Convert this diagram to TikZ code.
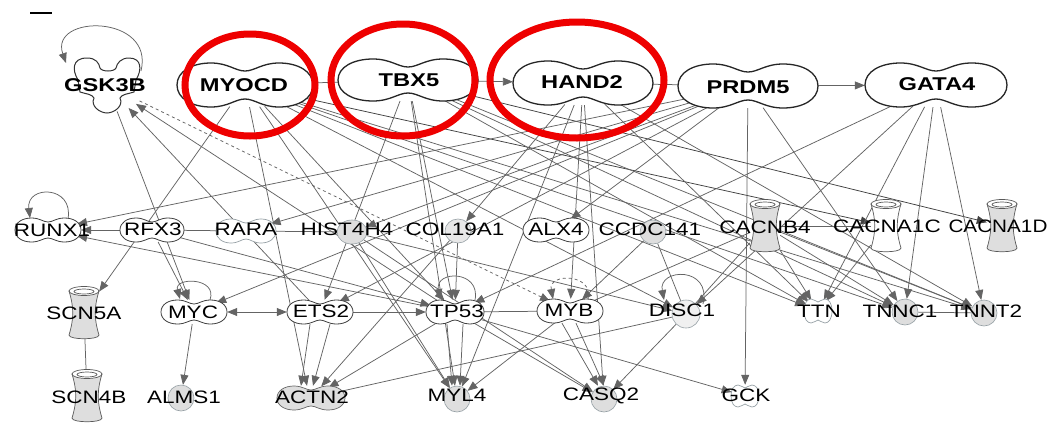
\documentclass[tikz,border=0pt]{standalone}
\usepackage{fontspec}
\setmainfont{Liberation Sans}
\usetikzlibrary{arrows.meta,calc,shapes.geometric}
\pgfdeclarelayer{background}
\pgfsetlayers{background,main}
\definecolor{edgegray}{RGB}{100,100,100}
\definecolor{ringred}{RGB}{238,0,0}
\definecolor{shadegray}{RGB}{222,222,222}
\definecolor{softline}{RGB}{150,160,165}
\newcommand\gtext[1]{\scalebox{1.25}[1]{#1}}
\newcommand\gbold[1]{\scalebox{1.28}[1]{#1}}
% two-lobed outline: x, y, half width, half height, pinch depth, style
\newcommand\peanutshape[6]{%
  \path[#6] ({#1-#3},{#2})
   .. controls ({#1-#3},{#2-0.62*#4}) and ({#1-0.78*#3},{#2-#4}) .. ({#1-0.5*#3},{#2-#4})
   .. controls ({#1-0.25*#3},{#2-#4}) and ({#1-0.14*#3},{#2-#4+#5}) .. ({#1},{#2-#4+#5})
   .. controls ({#1+0.14*#3},{#2-#4+#5}) and ({#1+0.25*#3},{#2-#4}) .. ({#1+0.5*#3},{#2-#4})
   .. controls ({#1+0.78*#3},{#2-#4}) and ({#1+#3},{#2-0.62*#4}) .. ({#1+#3},{#2})
   .. controls ({#1+#3},{#2+0.62*#4}) and ({#1+0.78*#3},{#2+#4}) .. ({#1+0.5*#3},{#2+#4})
   .. controls ({#1+0.25*#3},{#2+#4}) and ({#1+0.14*#3},{#2+#4-#5}) .. ({#1},{#2+#4-#5})
   .. controls ({#1-0.14*#3},{#2+#4-#5}) and ({#1-0.25*#3},{#2+#4}) .. ({#1-0.5*#3},{#2+#4})
   .. controls ({#1-0.78*#3},{#2+#4}) and ({#1-#3},{#2+0.62*#4}) .. cycle;}
% ion channel: x, y, body fill
\newcommand\channelshape[3]{%
  \filldraw[chan, fill=#3] ({#1-15},{#2-22}) .. controls ({#1-10},{#2-6}) and ({#1-10},{#2+6}) .. ({#1-15},{#2+22})
    .. controls ({#1-15},{#2+27}) and ({#1+15},{#2+27}) .. ({#1+15},{#2+22})
    .. controls ({#1+10},{#2+6}) and ({#1+10},{#2-6}) .. ({#1+15},{#2-22}) -- cycle;
  \filldraw[chan, fill=white] (#1,{#2-22}) ellipse [x radius=15pt, y radius=4.5pt];
  \draw[chan] (#1,{#2-21.5}) ellipse [x radius=10pt, y radius=2.5pt];}
\tikzset{
  edge/.style={draw=edgegray, line width=0.75pt},
  ar/.style={edge, -{Triangle[length=10pt,width=8pt]}},
  arr/.style={edge, {Triangle[length=10pt,width=8pt]}-{Triangle[length=10pt,width=8pt]}},
  hub/.style={ellipse, inner sep=0pt},
  box/.style={rectangle, inner sep=0pt, minimum width=30pt, minimum height=52pt},
  gcirc/.style={circle, draw=softline, fill=shadegray, line width=0.6pt, minimum size=26pt, inner sep=0pt},
  bigpn/.style={draw=black!85, line width=1.3pt, fill=white},
  smpn/.style={draw=black!75, line width=0.8pt, fill=white},
  faintpn/.style={draw=softline, line width=0.7pt, fill=white},
  graypn/.style={draw=black!60, line width=0.7pt, fill=shadegray},
  chan/.style={draw=black!65, line width=0.7pt},
  kin/.style={draw=black!80, line width=1pt, fill=white},
  lbl/.style={font=\fontsize{18}{20}\selectfont, inner sep=0pt},
  tlbl/.style={font=\fontsize{18.5}{20}\selectfont\bfseries, inner sep=0pt},
  ring/.style={draw=ringred, line width=7pt},
}
\begin{document}
\begin{tikzpicture}[x=1pt,y=-1pt]
\useasboundingbox (0,0) rectangle (1050,424);
\draw[line width=1.2pt] (30,13) -- (52,13);

% ---------- top row ----------
\filldraw[kin] (78,80) .. controls (72,70) and (72,58) .. (87,58) .. controls (96,58) and (99,63) .. (100,68)
  .. controls (102,72) and (114,72) .. (116,68) .. controls (117,63) and (121,58) .. (129,58)
  .. controls (142,58) and (142,70) .. (136,80) -- (134,92) .. controls (128,94) and (122,94) .. (120,98)
  .. controls (124,106) and (114,113) .. (107,113) .. controls (100,113) and (90,106) .. (94,98)
  .. controls (92,94) and (86,94) .. (80,92) -- cycle;
\node[hub, minimum width=80pt, minimum height=54pt] (gsk) at (107,85) {};
\node[tlbl] (gsk-t) at (105,85) {\gbold{GSK3B}};

\peanutshape{245}{85}{68}{22}{8}{bigpn}
\node[hub, minimum width=136pt, minimum height=44pt] (myocd) at (245,85) {};
\node[tlbl] (myocd-t) at (244,85) {\gbold{MYOCD}};

\peanutshape{408}{80}{70}{21}{8}{bigpn}
\node[hub, minimum width=140pt, minimum height=42pt] (tbx5) at (408,80) {};
\node[tlbl] (tbx5-t) at (409,80) {\gbold{TBX5}};

\peanutshape{583}{83}{70}{22}{8}{bigpn}
\node[hub, minimum width=140pt, minimum height=44pt] (hand2) at (583,83) {};
\node[tlbl] (hand2-t) at (582,82) {\gbold{HAND2}};

\peanutshape{748}{86}{70}{22}{8}{bigpn}
\node[hub, minimum width=140pt, minimum height=44pt] (prdm5) at (748,86) {};
\node[tlbl] (prdm5-t) at (748,87) {\gbold{PRDM5}};

\peanutshape{936}{85}{71}{22}{8}{bigpn}
\node[hub, minimum width=142pt, minimum height=44pt] (gata4) at (936,85) {};
\node[tlbl] (gata4-t) at (937,84) {\gbold{GATA4}};

% ---------- second row ----------
\peanutshape{48}{230}{33}{12}{4}{smpn}
\node[hub, minimum width=66pt, minimum height=24pt] (runx1) at (48,230) {};
\peanutshape{152}{230}{32}{12}{4}{smpn}
\node[hub, minimum width=64pt, minimum height=24pt] (rfx3) at (152,230) {};
\peanutshape{246}{231}{30}{12}{4}{faintpn}
\node[hub, minimum width=60pt, minimum height=24pt] (rara) at (246,231) {};
\filldraw[draw=softline, fill=shadegray, line width=0.6pt] (352,232) ellipse [x radius=15pt, y radius=12pt];
\node[hub, minimum width=30pt, minimum height=24pt] (hist4h4) at (352,232) {};
\filldraw[draw=softline, fill=shadegray!70, line width=0.6pt] (458,231) ellipse [x radius=13pt, y radius=12pt];
\node[hub, minimum width=26pt, minimum height=24pt] (col19a1) at (458,231) {};
\peanutshape{556}{230}{33}{12}{4}{smpn}
\node[hub, minimum width=66pt, minimum height=24pt] (alx4) at (556,230) {};
\filldraw[draw=softline, fill=shadegray, line width=0.6pt] (653,232) ellipse [x radius=13pt, y radius=12pt];
\node[hub, minimum width=26pt, minimum height=24pt] (ccdc141) at (653,232) {};
\channelshape{765}{226}{shadegray}
\node[box] (cacnb4) at (765,226) {};
\channelshape{886}{226}{white}
\node[box] (cacna1c) at (886,226) {};
\channelshape{1002}{226}{shadegray}
\node[box] (cacna1d) at (1002,226) {};

% ---------- third row ----------
\channelshape{84}{313}{shadegray}
\node[box] (scn5a) at (84,313) {};
\peanutshape{194}{312}{33}{12}{4}{smpn}
\node[hub, minimum width=66pt, minimum height=24pt] (myc) at (194,312) {};
\peanutshape{320}{312}{33}{12}{4}{smpn}
\node[hub, minimum width=66pt, minimum height=24pt] (ets2) at (320,312) {};
\peanutshape{455}{312}{29}{12}{4}{smpn}
\node[hub, minimum width=58pt, minimum height=24pt] (tp53) at (455,312) {};
\peanutshape{570}{311}{33}{12}{4}{smpn}
\node[hub, minimum width=66pt, minimum height=24pt] (myb) at (570,311) {};
\node[gcirc, fill=shadegray!45, minimum size=28pt] (disc1) at (686,314) {};
\peanutshape{818}{311}{14}{12}{3}{faintpn}
\node[hub, minimum width=28pt, minimum height=24pt] (ttn) at (818,311) {};
\node[gcirc] (tnnc1) at (905,312) {};
\node[gcirc] (tnnt2) at (984,313) {};

% ---------- bottom row ----------
\channelshape{87}{396}{shadegray}
\node[box] (scn4b) at (87,396) {};
\node[gcirc] (alms1) at (181,398) {};
\peanutshape{311}{398}{34}{12}{4}{graypn}
\node[hub, minimum width=68pt, minimum height=24pt] (actn2) at (311,398) {};
\node[gcirc] (myl4) at (457,399) {};
\node[gcirc] (casq2) at (604,399) {};
\peanutshape{745}{396}{14}{11}{3}{faintpn}
\node[hub, minimum width=28pt, minimum height=22pt] (gck) at (745,396) {};

% ---------- names ----------
\node[lbl] (runx1-t) at (52,230) {\gtext{RUNX1}};
\node[lbl] (rfx3-t) at (153,229) {\gtext{RFX3}};
\node[lbl] (rara-t) at (246,229) {\gtext{RARA}};
\node[lbl] (hist4h4-t) at (347,229) {\gtext{HIST4H4}};
\node[lbl] (col19a1-t) at (455,229) {\gtext{COL19A1}};
\node[lbl] (alx4-t) at (556,229) {\gtext{ALX4}};
\node[lbl] (ccdc141-t) at (650,229) {\gtext{CCDC141}};
\node[lbl] (cacnb4-t) at (765,227) {\gtext{CACNB4}};
\node[lbl] (cacna1c-t) at (887,226) {\gtext{CACNA1C}};
\node[lbl] (cacna1d-t) at (998,226) {\scalebox{1.15}[1]{CACNA1D}};
\node[lbl] (scn5a-t) at (84,313) {\gtext{SCN5A}};
\node[lbl] (myc-t) at (193,312) {\gtext{MYC}};
\node[lbl] (ets2-t) at (321,311) {\gtext{ETS2}};
\node[lbl] (tp53-t) at (457,311) {\gtext{TP53}};
\node[lbl] (myb-t) at (569,310) {\gtext{MYB}};
\node[lbl] (disc1-t) at (682,310) {\gtext{DISC1}};
\node[lbl] (ttn-t) at (819,311) {\gtext{TTN}};
\node[lbl] (tnnc1-t) at (900,311) {\gtext{TNNC1}};
\node[lbl] (tnnt2-t) at (986,311) {\gtext{TNNT2}};
\node[lbl] (scn4b-t) at (89,397) {\gtext{SCN4B}};
\node[lbl] (alms1-t) at (184,397) {\gtext{ALMS1}};
\node[lbl] (actn2-t) at (312,397) {\gtext{ACTN2}};
\node[lbl] (myl4-t) at (457,395) {\gtext{MYL4}};
\node[lbl] (casq2-t) at (601,396) {\gtext{CASQ2}};
\node[lbl] (gck-t) at (746,395) {\gtext{GCK}};

% ---------- connectors (drawn under the shapes) ----------
\begin{pgfonlayer}{background}
\fill[white] (0,0) rectangle (1050,424);
\draw[edge] (myocd) -- (tbx5);
\draw[ar] (tbx5) -- (hand2);
\draw[edge] (hand2) -- (prdm5);
\draw[ar] (prdm5) -- (gata4);
% self loops
\draw[ar] ($(gsk)+(34,-14)$) .. controls ($(gsk)+(48,-71)$) and ($(gsk)+(-58,-71)$) .. ($(gsk)+(-41,-22)$);
\draw[ar] ($(runx1)+(20,-11)$) .. controls ($(runx1)+(26,-45)$) and ($(runx1)+(-22,-45)$) .. ($(runx1)+(-18,-12)$);
\draw[ar] ($(myc)+(16,-12)$) .. controls ($(myc)+(24,-35)$) and ($(myc)+(-20,-35)$) .. ($(myc)+(-14,-13)$);
\draw[ar] ($(tp53)+(20,-12)$) .. controls ($(tp53)+(26,-42)$) and ($(tp53)+(-20,-42)$) .. ($(tp53)+(-15,-13)$);
\draw[ar, dashed] ($(myb)+(18,-12)$) .. controls ($(myb)+(24,-38)$) and ($(myb)+(-22,-38)$) .. ($(myb)+(-17,-12)$);
\draw[ar] ($(disc1)+(17,-10)$) .. controls ($(disc1)+(26,-48)$) and ($(disc1)+(-28,-46)$) .. ($(disc1)+(-22,-14)$);
% GSK3B
\draw[ar] (ets2) -- (gsk);
\draw[ar] (tp53) -- (gsk);
\draw[ar] (gsk) -- (myc);
\draw[ar, dashed] (gsk) -- (myb);
% MYOCD
\draw[ar] (myocd) -- (scn5a);
\draw[ar] (myocd) -- ([xshift=-4pt]actn2.north);
\draw[ar] (myocd) -- (myl4);
\draw[ar] (myocd) -- (tp53);
\draw[ar, draw=black!75] (myocd) -- (cacna1c);
\draw[ar] (myocd) -- (ttn);
\draw[ar] (myocd) -- (tnnc1);
\draw[ar] (myocd) -- (tnnt2);
\draw[ar] (myocd) -- (disc1);
% TBX5
\draw[ar] (tbx5) -- (ets2);
\draw[ar] (tbx5) -- (tp53);
\draw[ar] (tbx5) -- (myl4);
\draw[ar, draw=black!75] (tbx5) -- (cacna1d);
\draw[ar] (tbx5) -- (ttn);
\draw[ar] (tbx5) -- (tnnc1);
\draw[ar] (tbx5) -- (tnnt2);
% HAND2
\draw[ar] (hand2) -- (col19a1);
\draw[ar] (hand2) -- (casq2);
\draw[ar] (hand2) -- (myl4);
\draw[ar] (hand2) -- (ttn);
\draw[ar] (hand2) -- (tnnt2);
\draw[ar] (hand2) -- (myb);
% PRDM5
\draw[ar] (prdm5) -- (runx1);
\draw[ar] (prdm5) -- (rara);
\draw[ar] (prdm5) -- (hist4h4);
\draw[ar] (prdm5) -- (alx4);
\draw[ar] (prdm5) -- (gck);
\draw[ar] (prdm5) -- (tnnc1);
\draw[ar] (prdm5) -- (ets2);
\draw[ar] (prdm5) -- (myc);
% GATA4
\draw[ar] (gata4) -- (tp53);
\draw[ar] (gata4) -- (disc1);
\draw[ar] (gata4) -- (ttn);
\draw[ar] (gata4) -- (tnnc1);
\draw[ar] (gata4) -- (tnnt2);
% middle rows
\draw[ar] (rfx3) -- (runx1);
\draw[edge] (rfx3) -- (rara);
\draw[edge] (rara) -- (hist4h4);
\draw[ar] (rfx3) -- (myc);
\draw[ar] (rfx3) -- (tp53);
\draw[ar] (tp53) -- (runx1);
\draw[ar] (hist4h4) -- (myl4);
\draw[ar] (hist4h4) -- (casq2);
\draw[ar] (hist4h4) -- (disc1);
\draw[ar] (col19a1) -- (tp53);
\draw[ar] (col19a1) -- (actn2);
\draw[ar] (ccdc141) -- (myb);
\draw[edge] (ccdc141) -- (disc1);
\draw[edge] (cacnb4) -- (myb);
\draw[edge] (cacnb4) -- (disc1);
\draw[ar] (cacnb4) -- (ttn);
\draw[ar] (cacnb4) -- (tnnc1);
\draw[ar] (cacnb4) -- (tnnt2);
\draw[edge] (cacnb4) -- (cacna1c);
\draw[ar] (cacna1c) -- (ttn);
\draw[arr] (myc) -- (ets2);
\draw[ar] (ets2) -- (tp53);
\draw[edge] (tp53) -- (myb);
\draw[ar] ([xshift=-10pt]ets2.south) -- ([xshift=-10pt]actn2.north);
\draw[ar] ([xshift=10pt]ets2.south) -- ([xshift=2pt]actn2.north);
\draw[ar] (myc) -- (alms1);
\draw[edge] (scn5a) -- (scn4b);
\draw[ar] ([xshift=-8pt]tp53.south) -- ([xshift=-5pt]myl4.north);
\draw[ar] ([xshift=8pt]tp53.south) -- ([xshift=3pt]myl4.north);
\draw[ar] (tp53) -- (casq2);
\draw[ar] (tp53) -- (gck);
\draw[ar] (tp53) -- (actn2);
\draw[ar] (myb) -- (myl4);
\draw[ar] ([xshift=-8pt]myb.south) -- ([xshift=-6pt]casq2.north);
\draw[ar] ([xshift=6pt]myb.south) -- (casq2.north);
\draw[ar] (disc1) -- (casq2);
\draw[edge] (disc1) -- (actn2);
\draw[edge] (tnnc1) -- (tnnt2);
\end{pgfonlayer}

% ---------- highlight rings ----------
\draw[ring] (250,85) ellipse [x radius=65pt, y radius=51pt];
\draw[ring] (403,80) ellipse [x radius=72pt, y radius=56pt];
\draw[ring] (577,80) ellipse [x radius=87pt, y radius=58pt];
\end{tikzpicture}
\end{document}
